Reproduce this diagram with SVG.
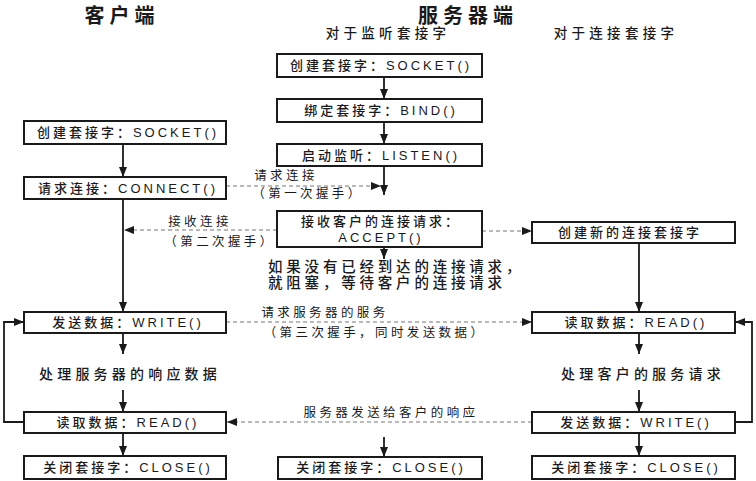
<svg xmlns="http://www.w3.org/2000/svg" width="756" height="481" viewBox="0 0 756 481">
<defs>
<style>
text{font-family:"Liberation Sans","Noto Sans CJK SC",sans-serif;fill:#1a1a1a;}
.box{fill:#fff;stroke:#1a1a1a;stroke-width:2;}
.bt{font-size:13px;letter-spacing:3px;text-anchor:middle;font-weight:500;}
.title{font-size:20px;letter-spacing:5px;text-anchor:middle;font-weight:bold;}
.sub{font-size:13.5px;letter-spacing:4.3px;text-anchor:middle;font-weight:500;}
.lab{font-size:12.5px;letter-spacing:3.4px;text-anchor:middle;}
.note{font-size:14.5px;letter-spacing:3.8px;text-anchor:middle;font-weight:500;}
.sol{fill:none;stroke:#1a1a1a;stroke-width:1.8;marker-end:url(#ah);}
.dash{fill:none;stroke:#777;stroke-width:1.2;stroke-dasharray:4 3;marker-end:url(#ah);}
</style>
<marker id="ah" markerUnits="userSpaceOnUse" markerWidth="10" markerHeight="10" viewBox="0 0 10 10" refX="10" refY="5" orient="auto">
<path d="M0,1 L10,5 L0,9 Z" fill="#1a1a1a"/>
</marker>
</defs>
<rect width="756" height="481" fill="#fff"/>
<g id="titles">
<text class="title" x="122" y="23">客户端</text>
<text class="title" x="468" y="23">服务器端</text>
<text class="sub" x="388" y="38">对于监听套接字</text>
<text class="sub" x="616" y="38">对于连接套接字</text>
</g>
<g id="connectors">
<path class="sol" d="M123,144 V177"/>
<path class="sol" d="M123,199 V312"/>
<path class="sol" d="M123,333 V354"/>
<path class="sol" d="M123,390 V412"/>
<path class="sol" d="M123,433 V456"/>
<path class="sol" d="M24,422 H4 V322 H24"/>
<path class="sol" d="M384,77 V99"/>
<path class="sol" d="M384,122 V144"/>
<path class="sol" d="M384,166 V195"/>
<path class="sol" d="M384,247 V259"/>
<path class="sol" d="M384,437 V457"/>
<path class="sol" d="M639,243 V312"/>
<path class="sol" d="M639,333 V354"/>
<path class="sol" d="M639,390 V412"/>
<path class="sol" d="M639,433 V456"/>
<path class="sol" d="M735,422 H752 V322 H735"/>
<path class="dash" d="M226,186 H381"/>
<path class="dash" d="M277,230 H124"/>
<path class="dash" d="M482,231 H532"/>
<path class="dash" d="M226,322 H532"/>
<path class="dash" d="M532,422 H227"/>
<text class="lab" x="286" y="180">请求连接</text>
<text class="lab" x="308" y="198">（第一次握手）</text>
<text class="lab" x="200" y="226">接收连接</text>
<text class="lab" x="220" y="246">（第二次握手）</text>
<text class="lab" x="325" y="317">请求服务器的服务</text>
<text class="lab" x="375" y="337">（第三次握手，同时发送数据）</text>
<text class="lab" x="391" y="417">服务器发送给客户的响应</text>
</g>
<g id="c-socket"><rect class="box" x="24" y="121" width="202" height="23"/><text class="bt" x="128" y="137">创建套接字：SOCKET()</text></g>
<g id="c-connect"><rect class="box" x="24" y="177" width="202" height="22"/><text class="bt" x="128" y="193">请求连接：CONNECT()</text></g>
<g id="c-write"><rect class="box" x="24" y="312" width="202" height="21"/><text class="bt" x="128" y="327">发送数据：WRITE()</text></g>
<g id="c-process"><text class="note" style="font-size:14px;letter-spacing:4.2px" x="130" y="379">处理服务器的响应数据</text></g>
<g id="c-read"><rect class="box" x="24" y="412" width="202" height="21"/><text class="bt" x="128" y="427">读取数据：READ()</text></g>
<g id="c-close"><rect class="box" x="24" y="456" width="202" height="23"/><text class="bt" x="128" y="472">关闭套接字：CLOSE()</text></g>
<g id="s-socket"><rect class="box" x="277" y="54" width="205" height="23"/><text class="bt" x="381" y="70">创建套接字：SOCKET()</text></g>
<g id="s-bind"><rect class="box" x="277" y="99" width="205" height="23"/><text class="bt" x="381" y="115">绑定套接字：BIND()</text></g>
<g id="s-listen"><rect class="box" x="277" y="144" width="205" height="22"/><text class="bt" x="381" y="160">启动监听：LISTEN()</text></g>
<g id="s-accept"><rect class="box" x="277" y="211" width="205" height="36"/><text class="bt" x="381" y="226">接收客户的连接请求：</text><text class="bt" x="381" y="242">ACCEPT()</text></g>
<g id="s-note"><text class="note" style="text-anchor:start" x="268" y="272">如果没有已经到达的连接请求，</text><text class="note" style="text-anchor:start" x="268" y="288">就阻塞，等待客户的连接请求</text></g>
<g id="s-close"><rect class="box" x="278" y="457" width="204" height="22"/><text class="bt" x="381" y="472">关闭套接字：CLOSE()</text></g>
<g id="n-create"><rect class="box" x="532" y="222" width="203" height="21"/><text class="bt" x="630" y="237">创建新的连接套接字</text></g>
<g id="n-read"><rect class="box" x="532" y="312" width="203" height="21"/><text class="bt" x="636" y="327">读取数据：READ()</text></g>
<g id="n-process"><text class="note" style="font-size:14px;letter-spacing:4.2px" x="643" y="379">处理客户的服务请求</text></g>
<g id="n-write"><rect class="box" x="532" y="412" width="203" height="21"/><text class="bt" x="636" y="427">发送数据：WRITE()</text></g>
<g id="n-close"><rect class="box" x="532" y="456" width="203" height="23"/><text class="bt" x="636" y="472">关闭套接字：CLOSE()</text></g>
</svg>
